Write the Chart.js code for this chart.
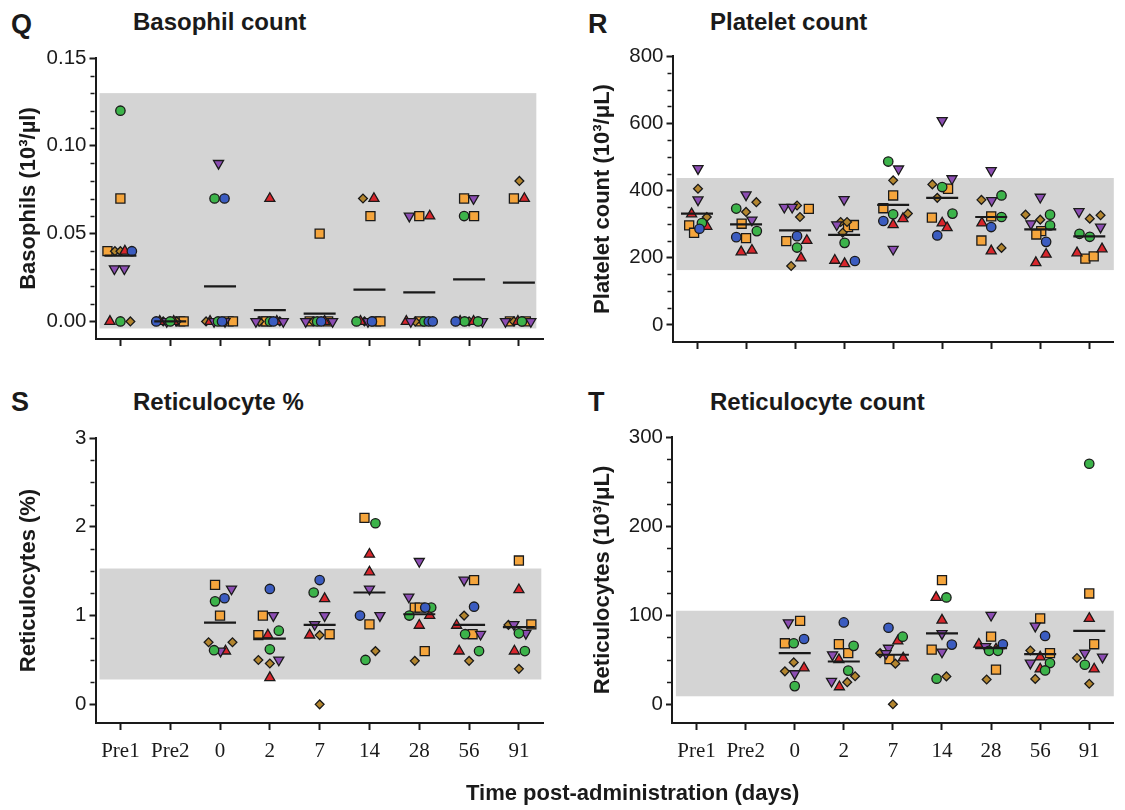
<!DOCTYPE html>
<html>
<head>
<meta charset="utf-8">
<title>Basophils, platelets and reticulocytes over time</title>
<script src="https://cdn.jsdelivr.net/npm/chart.js@4.4.1/dist/chart.umd.min.js"></script>
<style>
  html, body { margin: 0; padding: 0; background: #fff; }
  body { width: 1125px; height: 810px; position: relative; overflow: hidden;
         font-family: 'Liberation Sans', Arial, sans-serif; color: #1a1a1a; }
  .panel { position: absolute; }
  .letter { position: absolute; font-size: 27px; font-weight: bold; line-height: 1; }
  .title { position: absolute; font-size: 24px; font-weight: bold; line-height: 1; white-space: nowrap; }
  .xtitle { position: absolute; left: 466px; top: 782px; font-size: 22px; font-weight: bold; line-height: 1; white-space: nowrap; }
</style>
</head>
<body>
<div class="letter" style="left:11px;top:11px">Q</div>
<div class="title" style="left:133px;top:10px">Basophil count</div>
<div class="letter" style="left:588px;top:11px">R</div>
<div class="title" style="left:710px;top:10px">Platelet count</div>
<div class="letter" style="left:11px;top:389px">S</div>
<div class="title" style="left:133px;top:390px">Reticulocyte %</div>
<div class="letter" style="left:588px;top:389px">T</div>
<div class="title" style="left:710px;top:390px">Reticulocyte count</div>

<div class="panel" style="left:0;top:0;width:562px;height:380px"><canvas id="chartQ"></canvas></div>
<div class="panel" style="left:562px;top:0;width:570px;height:380px"><canvas id="chartR"></canvas></div>
<div class="panel" style="left:0;top:380px;width:562px;height:430px"><canvas id="chartS"></canvas></div>
<div class="panel" style="left:562px;top:380px;width:570px;height:430px"><canvas id="chartT"></canvas></div>

<div class="xtitle">Time post-administration (days)</div>

<script>
const categories = ['Pre1', 'Pre2', '0', '2', '7', '14', '28', '56', '91'];

// shape codes: S orange square, D diamond, T red triangle, V purple inverted triangle,
// G green circle, B blue circle
// each point: [category index, jitter (in categories), value, shape]
const basophils = [
  [0, 0, 0.12, 'G'], [0, 0, 0.07, 'S'],
  [0, -0.26, 0.04, 'S'], [0, -0.11, 0.04, 'D'], [0, 0.0, 0.04, 'D'], [0, 0.09, 0.04, 'T'], [0, 0.23, 0.04, 'B'],
  [0, -0.12, 0.03, 'V'], [0, 0.08, 0.03, 'V'],
  [0, -0.21, 0, 'T'], [0, 0, 0, 'G'], [0, 0.2, 0, 'D'],
  [1, -0.28, 0, 'B'], [1, -0.21, 0, 'T'], [1, -0.14, 0, 'D'], [1, -0.07, 0, 'V'], [1, 0, 0, 'G'],
  [1, 0.07, 0, 'T'], [1, 0.13, 0, 'D'], [1, 0.2, 0, 'S'], [1, 0.27, 0, 'S'],
  [2, -0.03, 0.09, 'V'], [2, -0.11, 0.07, 'G'], [2, 0.09, 0.07, 'B'],
  [2, -0.28, 0, 'D'], [2, -0.2, 0, 'T'], [2, -0.12, 0, 'V'], [2, -0.04, 0, 'G'], [2, 0.04, 0, 'B'],
  [2, 0.1, 0, 'V'], [2, 0.17, 0, 'S'], [2, 0.26, 0, 'S'],
  [3, 0, 0.07, 'T'],
  [3, -0.28, 0, 'V'], [3, -0.21, 0, 'D'], [3, -0.14, 0, 'S'], [3, -0.07, 0, 'S'], [3, 0, 0, 'G'],
  [3, 0.07, 0, 'B'], [3, 0.14, 0, 'T'], [3, 0.2, 0, 'D'], [3, 0.27, 0, 'V'],
  [4, 0, 0.05, 'S'],
  [4, -0.28, 0, 'V'], [4, -0.2, 0, 'S'], [4, -0.13, 0, 'D'], [4, -0.05, 0, 'G'], [4, 0.03, 0, 'B'],
  [4, 0.1, 0, 'T'], [4, 0.17, 0, 'S'], [4, 0.26, 0, 'V'],
  [5, -0.13, 0.07, 'D'], [5, 0.09, 0.07, 'T'], [5, 0.02, 0.06, 'S'],
  [5, -0.26, 0, 'G'], [5, -0.18, 0, 'T'], [5, -0.1, 0, 'D'], [5, -0.03, 0, 'V'], [5, 0.05, 0, 'B'],
  [5, 0.13, 0, 'S'], [5, 0.22, 0, 'S'],
  [6, -0.2, 0.06, 'V'], [6, 0, 0.06, 'S'], [6, 0.21, 0.06, 'T'],
  [6, -0.26, 0, 'T'], [6, -0.17, 0, 'V'], [6, -0.08, 0, 'D'], [6, 0.01, 0, 'S'], [6, 0.1, 0, 'G'],
  [6, 0.19, 0, 'B'], [6, 0.27, 0, 'B'],
  [7, -0.1, 0.07, 'S'], [7, 0.09, 0.07, 'V'], [7, -0.1, 0.06, 'G'], [7, 0.1, 0.06, 'S'],
  [7, -0.27, 0, 'B'], [7, -0.18, 0, 'T'], [7, -0.09, 0, 'G'], [7, 0, 0, 'D'], [7, 0.09, 0, 'T'],
  [7, 0.18, 0, 'G'], [7, 0.27, 0, 'V'],
  [8, 0.01, 0.08, 'D'], [8, -0.1, 0.07, 'S'], [8, 0.11, 0.07, 'T'],
  [8, -0.27, 0, 'V'], [8, -0.18, 0, 'S'], [8, -0.1, 0, 'D'], [8, -0.02, 0, 'T'], [8, 0.06, 0, 'G'],
  [8, 0.14, 0, 'S'], [8, 0.24, 0, 'V']
];
const basophilMeans = [0.0375, 0, 0.020, 0.0064, 0.0045, 0.0181, 0.0166, 0.0239, 0.0221];
const basophilRange = [-0.004, 0.13];

const platelets = [
  [0, 0.02, 465, 'V'], [0, 0.02, 405, 'D'], [0, 0.02, 372, 'V'], [0, -0.11, 330, 'T'], [0, 0.2, 321, 'D'],
  [0, 0.1, 303, 'G'], [0, -0.16, 296, 'S'], [0, 0.2, 293, 'T'], [0, 0.05, 286, 'B'], [0, -0.06, 274, 'S'],
  [1, 0, 387, 'V'], [1, 0.21, 365, 'D'], [1, -0.2, 346, 'G'], [1, 0, 336, 'D'], [1, 0.12, 312, 'V'],
  [1, -0.09, 301, 'S'], [1, 0.22, 279, 'G'], [1, -0.2, 261, 'B'], [1, 0, 258, 'S'], [1, -0.1, 217, 'T'],
  [1, 0.12, 222, 'T'],
  [2, -0.22, 350, 'V'], [2, -0.06, 350, 'V'], [2, 0.04, 355, 'D'], [2, 0.1, 321, 'D'], [2, 0.28, 345, 'S'],
  [2, 0.04, 264, 'B'], [2, -0.18, 249, 'S'], [2, 0.24, 251, 'T'], [2, 0.04, 230, 'G'], [2, 0.12, 199, 'T'],
  [2, -0.08, 175, 'D'],
  [3, 0, 373, 'V'], [3, -0.15, 298, 'V'], [3, -0.07, 306, 'D'], [3, 0.06, 306, 'D'], [3, 0.08, 291, 'S'],
  [3, 0.2, 297, 'S'], [3, -0.03, 274, 'D'], [3, 0.01, 244, 'G'], [3, -0.19, 192, 'T'], [3, 0.01, 182, 'T'],
  [3, 0.22, 190, 'B'],
  [4, -0.1, 486, 'G'], [4, 0.11, 464, 'V'], [4, 0, 430, 'D'], [4, 0, 385, 'S'], [4, -0.2, 347, 'S'],
  [4, 0, 329, 'G'], [4, 0.3, 331, 'D'], [4, -0.2, 309, 'B'], [4, 0.2, 316, 'T'], [4, 0, 298, 'T'],
  [4, 0, 225, 'V'],
  [5, 0, 608, 'V'], [5, 0.2, 435, 'V'], [5, -0.2, 418, 'D'], [5, 0, 410, 'G'], [5, 0.12, 405, 'S'],
  [5, -0.1, 378, 'D'], [5, -0.21, 319, 'S'], [5, 0.21, 331, 'G'], [5, 0, 303, 'T'], [5, 0.1, 289, 'T'],
  [5, -0.1, 266, 'B'],
  [6, 0, 459, 'V'], [6, -0.2, 372, 'D'], [6, 0.01, 370, 'V'], [6, 0.21, 385, 'G'], [6, 0, 323, 'S'],
  [6, 0.21, 321, 'G'], [6, -0.19, 303, 'T'], [6, 0, 291, 'B'], [6, -0.2, 251, 'S'], [6, 0, 220, 'T'],
  [6, 0.21, 229, 'D'],
  [7, 0, 380, 'V'], [7, -0.3, 328, 'D'], [7, 0, 313, 'D'], [7, 0.2, 328, 'G'], [7, -0.19, 301, 'V'],
  [7, 0.2, 296, 'G'], [7, 0.02, 279, 'S'], [7, -0.08, 269, 'S'], [7, 0.12, 247, 'B'], [7, 0.12, 210, 'T'],
  [7, -0.09, 185, 'T'],
  [8, -0.21, 337, 'V'], [8, 0.01, 316, 'D'], [8, 0.23, 326, 'D'], [8, 0.23, 291, 'V'], [8, -0.2, 271, 'G'],
  [8, 0.01, 262, 'G'], [8, -0.25, 214, 'T'], [8, -0.08, 197, 'S'], [8, 0.09, 204, 'S'], [8, 0.26, 226, 'T']
];
const plateletMeans = [331, 299, 281, 268, 357, 378, 321, 284, 263];
const plateletRange = [163, 437];

const reticPct = [
  [2, -0.1, 1.345, 'S'], [2, 0.23, 1.3, 'V'], [2, 0.09, 1.195, 'B'], [2, -0.1, 1.16, 'G'], [2, 0, 1.0, 'S'],
  [2, -0.23, 0.7, 'D'], [2, 0.25, 0.7, 'D'], [2, -0.12, 0.61, 'G'], [2, 0.01, 0.6, 'V'], [2, 0.11, 0.6, 'T'],
  [3, 0, 1.3, 'B'], [3, -0.14, 1.0, 'S'], [3, 0.07, 1.0, 'V'], [3, -0.23, 0.78, 'S'], [3, -0.04, 0.78, 'T'],
  [3, 0.18, 0.83, 'G'], [3, 0, 0.62, 'G'], [3, -0.23, 0.5, 'D'], [3, 0, 0.46, 'D'], [3, 0.18, 0.5, 'V'],
  [3, 0, 0.3, 'T'],
  [4, 0, 1.4, 'B'], [4, -0.12, 1.26, 'G'], [4, 0.1, 1.19, 'T'], [4, 0.1, 1.0, 'V'], [4, -0.1, 0.9, 'V'],
  [4, -0.2, 0.78, 'T'], [4, 0, 0.78, 'D'], [4, 0.2, 0.79, 'S'], [4, 0, 0, 'D'],
  [5, -0.1, 2.1, 'S'], [5, 0.12, 2.04, 'G'], [5, 0, 1.69, 'T'], [5, 0, 1.49, 'T'], [5, 0, 1.3, 'V'],
  [5, -0.19, 1.0, 'B'], [5, 0.21, 1.0, 'V'], [5, 0, 0.9, 'S'], [5, 0.12, 0.6, 'D'], [5, -0.08, 0.5, 'G'],
  [6, 0, 1.61, 'V'], [6, -0.21, 1.21, 'V'], [6, -0.09, 1.09, 'S'], [6, 0.01, 1.09, 'S'], [6, 0.12, 1.09, 'B'],
  [6, 0.24, 1.09, 'G'], [6, -0.2, 1.0, 'G'], [6, 0.21, 1.0, 'T'], [6, 0, 0.89, 'T'], [6, 0.11, 0.6, 'S'],
  [6, -0.09, 0.49, 'D'],
  [7, -0.1, 1.4, 'V'], [7, 0.1, 1.4, 'S'], [7, 0.1, 1.1, 'B'], [7, -0.1, 1.0, 'D'], [7, -0.25, 0.89, 'T'],
  [7, -0.08, 0.79, 'G'], [7, 0.07, 0.79, 'S'], [7, 0.23, 0.79, 'V'], [7, -0.2, 0.6, 'T'], [7, 0.2, 0.6, 'G'],
  [7, 0, 0.49, 'D'],
  [8, 0, 1.62, 'S'], [8, 0, 1.29, 'T'], [8, -0.21, 0.895, 'D'], [8, -0.1, 0.9, 'V'], [8, 0.25, 0.9, 'S'],
  [8, 0, 0.8, 'G'], [8, 0.14, 0.8, 'V'], [8, -0.09, 0.6, 'T'], [8, 0.12, 0.6, 'G'], [8, 0, 0.4, 'D']
];
const reticPctMeans = [null, null, 0.92, 0.74, 0.895, 1.26, 1.015, 0.895, 0.87];
const reticPctRange = [0.28, 1.53];

const reticCount = [
  [2, -0.13, 91.5, 'V'], [2, 0.11, 93.7, 'S'], [2, -0.2, 68.5, 'S'], [2, -0.02, 68.5, 'G'], [2, 0.19, 73.3, 'B'],
  [2, -0.02, 47, 'D'], [2, -0.2, 37, 'D'], [2, 0, 34.4, 'V'], [2, 0.19, 40.7, 'T'], [2, 0, 20.4, 'G'],
  [3, 0, 91.9, 'B'], [3, -0.1, 67.4, 'S'], [3, 0.2, 65.6, 'G'], [3, 0.09, 57.4, 'S'], [3, -0.23, 55.6, 'V'],
  [3, -0.1, 50, 'T'], [3, 0.09, 37.8, 'G'], [3, 0.23, 31.5, 'D'], [3, -0.25, 25.9, 'V'], [3, 0.07, 24.8, 'D'],
  [3, -0.09, 19.6, 'T'],
  [4, -0.09, 85.9, 'B'], [4, 0.2, 75.9, 'G'], [4, 0.1, 71, 'T'], [4, -0.09, 63, 'V'], [4, -0.26, 57.4, 'D'],
  [4, -0.14, 57, 'V'], [4, -0.07, 50.7, 'S'], [4, 0.21, 51.9, 'T'], [4, 0.05, 45.6, 'D'], [4, 0, 0, 'D'],
  [5, 0, 139.4, 'S'], [5, -0.12, 119.9, 'T'], [5, 0.09, 119.9, 'G'], [5, 0, 94.4, 'T'], [5, 0, 79.4, 'V'],
  [5, 0.2, 67, 'B'], [5, -0.21, 61.3, 'S'], [5, 0, 58.7, 'V'], [5, -0.11, 28.7, 'G'], [5, 0.09, 31.3, 'D'],
  [6, 0, 100, 'V'], [6, 0, 75.9, 'S'], [6, -0.25, 67.4, 'T'], [6, -0.11, 64.8, 'V'], [6, -0.04, 60, 'G'],
  [6, 0.14, 60, 'G'], [6, 0.24, 67.4, 'B'], [6, 0.1, 61.9, 'T'], [6, 0.1, 38.9, 'S'], [6, -0.09, 27.8, 'D'],
  [7, 0, 96.3, 'S'], [7, -0.1, 87.8, 'V'], [7, 0.1, 76.7, 'B'], [7, -0.2, 60.4, 'D'], [7, 0.2, 57.4, 'S'],
  [7, 0, 53, 'T'], [7, -0.2, 46.3, 'V'], [7, 0.2, 46.3, 'G'], [7, 0, 39.6, 'T'], [7, 0.1, 38, 'G'],
  [7, -0.1, 28.5, 'D'],
  [8, 0, 270, 'G'], [8, 0, 124.4, 'S'], [8, 0, 96.3, 'T'], [8, 0.1, 67.4, 'S'], [8, -0.09, 57.4, 'V'],
  [8, -0.25, 51.9, 'D'], [8, 0.27, 53, 'V'], [8, -0.09, 44.4, 'G'], [8, 0.1, 39.6, 'T'], [8, 0, 23, 'D']
];
const reticCountMeans = [null, null, 57.4, 48, 55.6, 79.6, 63, 56.3, 82.4];
const reticCountRange = [9, 105];

// marker look per animal
const SHAPES = {
  S: { style: 'rect', r: 6.4, rot: 0, color: '#f5a53c' },
  D: { style: 'rectRot', r: 4.4, rot: 0, color: '#b3852e' },
  T: { style: 'triangle', r: 5.8, rot: 0, color: '#d8262c' },
  V: { style: 'triangle', r: 5.8, rot: 180, color: '#8c4db3' },
  G: { style: 'circle', r: 4.7, rot: 0, color: '#3cb34a' },
  B: { style: 'circle', r: 4.7, rot: 0, color: '#3b5cc0' }
};
const INK = '#1a1a1a';

// grey reference-range band behind the points
const refBand = {
  id: 'refBand',
  beforeDatasetsDraw(chart, args, opts) {
    const { x, y } = chart.scales;
    const ctx = chart.ctx;
    const x0 = x.getPixelForValue(opts.xFrom), x1 = x.getPixelForValue(opts.xTo);
    const y0 = y.getPixelForValue(opts.range[1]), y1 = y.getPixelForValue(opts.range[0]);
    ctx.save();
    ctx.fillStyle = '#d4d4d4';
    ctx.fillRect(x0, y0, x1 - x0, y1 - y0);
    ctx.restore();
  }
};

// short minor ticks on the y axis
const minorTicks = {
  id: 'minorTicks',
  afterDraw(chart, args, opts) {
    const y = chart.scales.y;
    const ctx = chart.ctx;
    const x0 = chart.chartArea.left - 1;
    ctx.save();
    ctx.strokeStyle = INK;
    ctx.lineWidth = 1.5;
    for (let v = 0; v <= y.max + 1e-9; v += opts.step) {
      const val = Math.round(v / opts.step) * opts.step;
      if (opts.majors.some(m => Math.abs(m - val) < opts.step / 10)) continue;
      const py = Math.round(y.getPixelForValue(val)) + 0.5;
      ctx.beginPath();
      ctx.moveTo(x0 - 4, py);
      ctx.lineTo(x0, py);
      ctx.stroke();
    }
    ctx.restore();
  }
};

function buildDatasets(points, means) {
  const sets = [{
    label: 'mean',
    data: means.map((m, i) => (m === null ? null : { x: i, y: m })).filter(Boolean),
    pointStyle: 'line',
    pointRadius: 16,
    pointBorderWidth: 2.2,
    pointBorderColor: INK
  }];
  ['B', 'G', 'V', 'T', 'D', 'S'].forEach(code => {
    const s = SHAPES[code];
    sets.push({
      label: code,
      data: points.filter(p => p[3] === code).map(p => ({ x: p[0] + p[1], y: p[2] })),
      pointStyle: s.style,
      pointRadius: s.r,
      pointRotation: s.rot,
      pointBackgroundColor: s.color,
      pointBorderColor: INK,
      pointBorderWidth: 1.3
    });
  });
  return sets;
}

function makePanel(id, cfg) {
  new Chart(document.getElementById(id), {
    type: 'scatter',
    data: { datasets: buildDatasets(cfg.points, cfg.means) },
    plugins: [refBand, minorTicks],
    options: {
      responsive: true,
      maintainAspectRatio: false,
      animation: false,
      events: [],
      layout: { padding: { left: 0, top: cfg.top, right: cfg.right, bottom: cfg.bottom } },
      plugins: {
        legend: { display: false },
        tooltip: { enabled: false },
        refBand: { range: cfg.range, xFrom: cfg.bandX[0], xTo: cfg.bandX[1] },
        minorTicks: { step: cfg.minor, majors: cfg.majors }
      },
      scales: {
        x: {
          type: 'linear',
          min: -0.5,
          max: 8.5,
          afterBuildTicks: s => { s.ticks = categories.map((c, i) => ({ value: i })); },
          afterFit: s => { s.height = cfg.xHeight; },
          ticks: {
            display: cfg.showX,
            autoSkip: false,
            maxRotation: 0,
            padding: 9,
            color: INK,
            font: { family: "'Liberation Serif', 'Times New Roman', serif", size: 21 },
            callback: (v, i) => categories[i]
          },
          grid: { display: true, drawOnChartArea: false, drawTicks: true, tickLength: 7, tickWidth: 2, tickColor: INK },
          border: { display: true, color: INK, width: 2 }
        },
        y: {
          min: cfg.min,
          max: cfg.max,
          afterBuildTicks: s => { s.ticks = cfg.majors.map(v => ({ value: v })); },
          afterFit: s => { s.width = cfg.left; },
          ticks: {
            padding: 3,
            color: INK,
            font: { family: "'Liberation Sans', Arial, sans-serif", size: 20.5 },
            callback: v => cfg.fmt(v)
          },
          grid: { display: true, drawOnChartArea: false, drawTicks: true, tickLength: 6, tickWidth: 2, tickColor: INK },
          border: { display: true, color: INK, width: 2 },
          title: {
            display: true,
            text: cfg.yTitle,
            color: INK,
            font: { family: "'Liberation Sans', Arial, sans-serif", size: 22, weight: 'bold' },
            padding: { top: cfg.titlePad, bottom: 0 }
          }
        }
      }
    }
  });
}

makePanel('chartQ', {
  points: basophils, means: basophilMeans, range: basophilRange, bandX: [-0.42, 8.35],
  min: -0.01, max: 0.15, majors: [0, 0.05, 0.10, 0.15], minor: 0.01, fmt: v => v.toFixed(2),
  yTitle: 'Basophils (10³/µl)', titlePad: 16,
  left: 95.5, top: 58, right: 13, bottom: 19, xHeight: 22, showX: false
});
makePanel('chartR', {
  points: platelets, means: plateletMeans, range: plateletRange, bandX: [-0.42, 8.5],
  min: -51, max: 800, majors: [0, 200, 400, 600, 800], minor: 50, fmt: v => String(v),
  yTitle: 'Platelet count (10³/μL)', titlePad: 28,
  left: 110.5, top: 56, right: 3, bottom: 16, xHeight: 22, showX: false
});
makePanel('chartS', {
  points: reticPct, means: reticPctMeans, range: reticPctRange, bandX: [-0.42, 8.45],
  min: -0.21, max: 3, majors: [0, 1, 2, 3], minor: 0.25, fmt: v => String(v),
  yTitle: 'Reticulocytes (%)', titlePad: 16,
  left: 95.5, top: 58, right: 13, bottom: 37, xHeight: 50, showX: true
});
makePanel('chartT', {
  points: reticCount, means: reticCountMeans, range: reticCountRange, bandX: [-0.42, 8.5],
  min: -21, max: 300, majors: [0, 100, 200, 300], minor: 25, fmt: v => String(v),
  yTitle: 'Reticulocytes (10³/μL)', titlePad: 28,
  left: 110, top: 57, right: 3, bottom: 37, xHeight: 50, showX: true
});
</script>
</body>
</html>
